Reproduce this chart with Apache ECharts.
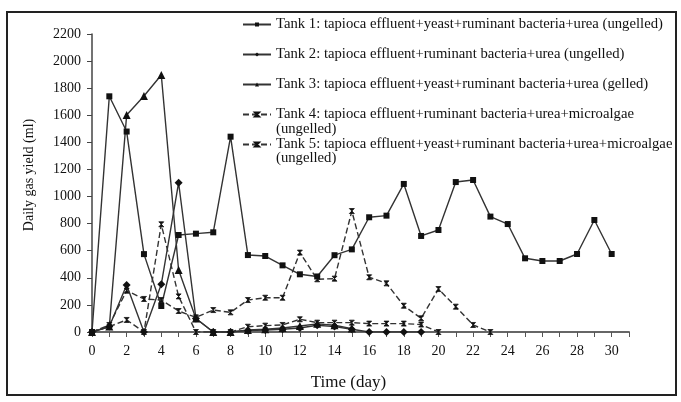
<!DOCTYPE html>
<html>
<head>
<meta charset="utf-8">
<script src="https://cdn.jsdelivr.net/npm/echarts@6/dist/echarts.min.js"></script>
<style>html,body{margin:0;padding:0;background:#fff;}#c{width:681px;height:402px;}</style>
</head>
<body>
<div id="c"></div>
<script>
const days = [0,1,2,3,4,5,6,7,8,9,10,11,12,13,14,15,16,17,18,19,20,21,22,23,24,25,26,27,28,29,30];
const seriesNames = [
  'Tank 1: tapioca effluent+yeast+ruminant bacteria+urea (ungelled)',
  'Tank 2: tapioca effluent+ruminant bacteria+urea (ungelled)',
  'Tank 3: tapioca effluent+yeast+ruminant bacteria+urea (gelled)',
  'Tank 4: tapioca effluent+ruminant bacteria+urea+microalgae\n(ungelled)',
  'Tank 5: tapioca effluent+yeast+ruminant bacteria+urea+microalgae\n(ungelled)'
];
const tank1 = [0,1740,1480,575,192,716,726,736,1442,568,561,492,426,410,567,610,847,859,1093,709,753,1107,1122,852,797,544,524,524,576,827,576];
const tank2 = [0,40,347,0,352,1102,100,0,0,10,15,20,30,50,40,20,0,0,0,0];
const tank3 = [0,40,1602,1742,1897,458,100,0,0,15,20,30,44,60,50,25];
const tank4 = [0,40,89,0,795,263,0,0,0,39,47,52,94,69,69,69,62,62,62,55,0];
const tank5 = [0,52,305,244,236,155,108,162,145,236,253,253,586,389,394,893,404,359,194,101,317,187,52,0];
const yTicks = {min: 0, max: 2200, step: 200};
const xTicks = {min: 0, max: 31, step: 1};

const FONT = 'Liberation Serif';
const LINE = '#333';
const xShape = 'path://M0,0 L10,0 L0,10 L10,10 Z';

function pairs(vals){ return vals.map((v,i)=>[days[i], v]); }

const defs = [
  {vals: tank1, sym: 'rect', size: 6, dash: 'solid'},
  {vals: tank2, sym: 'diamond', size: 8, dash: 'solid'},
  {vals: tank3, sym: 'triangle', size: 8, dash: 'solid'},
  {vals: tank4, sym: xShape, size: 5, dash: [6,3]},
  {vals: tank5, sym: xShape, size: 5, dash: [6,3]}
];

const series = defs.map((d,i)=>({
  name: seriesNames[i],
  type: 'line',
  data: pairs(d.vals),
  symbol: d.sym,
  symbolSize: d.size,
  showAllSymbol: true,
  animation: false,
  lineStyle: {color: LINE, width: 1.4, type: d.dash},
  itemStyle: {color: '#111', borderColor: '#111', borderWidth: d.sym === xShape ? 0.8 : 0}
}));

const chart = echarts.init(document.getElementById('c'));
chart.setOption({
  animation: false,
  backgroundColor: '#fff',
  grid: {left: 92, right: 52, top: 34, bottom: 70},
  legend: {
    orient: 'vertical',
    left: 242, top: 17, padding: 0,
    itemWidth: 28, itemHeight: 5, itemGap: 15,
    formatter: n => n.split('\n')[0],
    textStyle: {fontFamily: FONT, fontSize: 14.7, color: '#111', lineHeight: 15},
    data: seriesNames
  },
  xAxis: {
    type: 'value', min: xTicks.min, max: xTicks.max, interval: xTicks.step,
    name: 'Time (day)', nameLocation: 'middle', nameGap: 42,
    nameTextStyle: {fontFamily: FONT, fontSize: 17, color: '#111', padding: [0, 24, 0, 0]},
    axisLine: {lineStyle: {color: '#666', width: 2}},
    axisTick: {length: 5, lineStyle: {color: '#555', width: 1}},
    axisLabel: {fontFamily: FONT, fontSize: 14, color: '#111', margin: 12,
      formatter: v => (v % 2 === 0 && v <= 30) ? String(v) : ''},
    splitLine: {show: false}
  },
  yAxis: {
    type: 'value', min: yTicks.min, max: yTicks.max, interval: yTicks.step,
    name: 'Daily gas yield (ml)', nameLocation: 'middle', nameGap: 56,
    nameTextStyle: {fontFamily: FONT, fontSize: 14, color: '#111', padding: [0, 0, 0, 16]},
    axisLine: {show: true, lineStyle: {color: '#444', width: 1.5}},
    axisTick: {show: true, length: 5, lineStyle: {color: '#444'}},
    axisLabel: {fontFamily: FONT, fontSize: 14, color: '#111', margin: 11, formatter: v => String(v)},
    splitLine: {show: false}
  },
  graphic: [
    {type: 'rect', shape: {x: 7, y: 12, width: 669, height: 383}, style: {fill: 'none', stroke: '#222', lineWidth: 2}, z: 100},
    {type: 'text', left: 276, top: 122, style: {text: '(ungelled)', font: '14.7px "Liberation Serif"', fill: '#111'}},
    {type: 'text', left: 276, top: 151, style: {text: '(ungelled)', font: '14.7px "Liberation Serif"', fill: '#111'}}
  ],
  series: series
});
</script>
</body>
</html>
